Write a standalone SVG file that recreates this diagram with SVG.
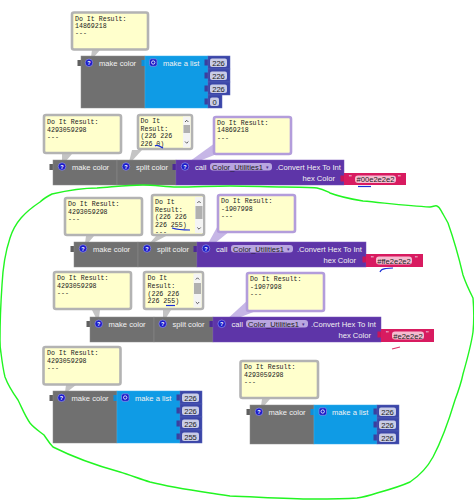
<svg xmlns="http://www.w3.org/2000/svg" width="474" height="500" viewBox="0 0 474 500">
<style>
text{font-family:"Liberation Sans",Arial,sans-serif}
.w{fill:#f2f2f2;font-size:7.6px}
.bb{fill:#ffffcc;stroke:#b3b3b3;stroke-width:2.6}
.bp{fill:#ffffcc;stroke:#b39ddb;stroke-width:2.6}
.tg{fill:#c4c4c4}
.tp{fill:#c6b6e6}
.m{font-family:"Liberation Mono","Courier New",monospace;font-size:6.6px;fill:#222}
.g{fill:#707070;stroke:#8a8a8a;stroke-width:.5}
.l{fill:#0f9be5;stroke:#35aef0;stroke-width:.5}
.p{fill:#5e35a8;stroke:#7350b8;stroke-width:.5}
.n{fill:#3b46a8;stroke:#5560b8;stroke-width:.5}
.r{fill:#d81b60}
.f{fill:#c9cce6}
.fr{fill:#f5bcd0}
.d{fill:#b9a6e0}
.t{fill:#222;font-size:7.6px}
.a{fill:#4a2a90;font-size:4.5px}
.c{text-anchor:middle}
.ic{fill:#1c1cc8;stroke:#8f8fe8;stroke-width:.7}
.q{fill:#fff;font-size:5.5px;font-weight:bold;text-anchor:middle}
.sb{fill:#f4f4f4}
.th{fill:#b0b0b0}
.ar{fill:none;stroke:#333;stroke-width:.8}
.tabg{fill:#5f5f5f}
.tabl{fill:#0f8fd8}
.tabn{fill:#3a3f9e}
.tabv{fill:#4c2a96}
.tabr{fill:#c8155a}
.gr{fill:none;stroke:#22f522;stroke-width:1.4}
.bl{fill:none;stroke:#1a2fd8;stroke-width:1.2}
</style>
<defs>
<clipPath id="c3"><rect x="153" y="196" width="40" height="39"/></clipPath>
</defs>

<g id="bubble-1">
<polygon class="tg" points="92,50 100,50 94,57 91,57"/>
<rect class="bb" x="72" y="12.500" width="76" height="37" rx="2"/>
<text class="m"><tspan x="75" y="20.500">Do It Result:</tspan><tspan x="75" y="28">14869218</tspan><tspan x="75" y="35">---</tspan></text>
</g>
<g id="make-color-1" transform="translate(81,56)">
<rect class="tabg" x="-3.500" y="4" width="4" height="6"/>
<rect class="g" width="64" height="52"/>
<circle class="ic" cx="8" cy="6.800" r="3.800"/><text class="q" x="8" y="8.800">?</text>
<text class="w" x="18" y="9.500">make color</text>
</g>
<g id="make-list-1" transform="translate(145,56)">
<rect class="tabl" x="-3.500" y="4" width="4" height="6"/>
<rect class="l" width="63" height="52"/>
<rect class="ic" x="4.500" y="2.800" width="7.500" height="7.500" rx="2"/><circle cx="8.200" cy="6.500" r="1.700" fill="none" stroke="#fff" stroke-width=".8"/>
<text class="w" x="18" y="9.500">make a list</text>
</g>
<g id="num-1-1" transform="translate(208,56)"><rect class="tabn" x="-3.500" y="3.500" width="4" height="6"/><rect class="n" width="22" height="13"/><rect class="f" x="2" y="2.500" width="17" height="8.500" rx="2"/><text class="t c" x="10.500" y="9.500">226</text></g>
<g id="num-1-2" transform="translate(208,69)"><rect class="tabn" x="-3.500" y="3.500" width="4" height="6"/><rect class="n" width="22" height="13"/><rect class="f" x="2" y="2.500" width="17" height="8.500" rx="2"/><text class="t c" x="10.500" y="9.500">226</text></g>
<g id="num-1-3" transform="translate(208,82)"><rect class="tabn" x="-3.500" y="3.500" width="4" height="6"/><rect class="n" width="22" height="13"/><rect class="f" x="2" y="2.500" width="17" height="8.500" rx="2"/><text class="t c" x="10.500" y="9.500">226</text></g>
<g id="num-1-4" transform="translate(208,95)"><rect class="tabn" x="-3.500" y="3.500" width="4" height="6"/><rect class="n" width="14" height="13"/><rect class="f" x="2" y="2.500" width="9" height="8.500" rx="2"/><text class="t c" x="6.500" y="9.500">0</text></g>

<g id="bubble-2a">
<polygon class="tg" points="62,154 72,154 66,161 62,161"/>
<rect class="bb" x="44" y="115" width="77" height="38" rx="2"/>
<text class="m"><tspan x="47" y="124">Do It Result:</tspan><tspan x="47" y="131.500">4293059298</tspan><tspan x="47" y="139">---</tspan></text>
</g>
<g id="bubble-2b">
<polygon class="tg" points="132,150 142,150 131,162 129,162"/>
<rect class="bb" x="138" y="115" width="54" height="34" rx="2"/>
<text class="m"><tspan x="140.500" y="123">Do It</tspan><tspan x="140.500" y="130.500">Result:</tspan><tspan x="140.500" y="138">(226 226</tspan><tspan x="140.500" y="146">226 0)</tspan></text>
<rect class="sb" x="183" y="116.500" width="7.500" height="31"/><rect class="th" x="183.500" y="125" width="6.500" height="8"/>
<path class="ar" d="M185 122l1.700-1.700 1.700 1.700M185 141.500l1.700 1.700 1.700-1.700"/>
</g>
<g id="bubble-2c">
<polygon class="tp" points="215,143 222,152 189,165 186,164"/>
<rect class="bp" x="214" y="117" width="77" height="37" rx="2"/>
<text class="m"><tspan x="217" y="125">Do It Result:</tspan><tspan x="217" y="132">14869218</tspan><tspan x="217" y="140">---</tspan></text>
</g>
<g id="make-color-2" transform="translate(53,160)">
<rect class="tabg" x="-3.500" y="4" width="4" height="6"/><rect class="g" width="64" height="25"/>
<circle class="ic" cx="9" cy="6.500" r="3.800"/><text class="q" x="9" y="8.500">?</text>
<text class="w" x="19" y="9.500">make color</text>
</g>
<g id="split-color-2" transform="translate(117,160)">
<rect class="g" width="59" height="25"/>
<circle class="ic" cx="9" cy="6.500" r="3.800"/><text class="q" x="9" y="8.500">?</text>
<text class="w" x="19" y="9.500">split color</text>
</g>
<g id="call-2" transform="translate(176,160)">
<rect class="tabv" x="-3.500" y="4" width="4" height="6"/><rect class="p" width="168" height="25"/>
<circle class="ic" cx="9" cy="6.500" r="3.800"/><text class="q" x="9" y="8.500">?</text>
<text class="w" x="19" y="9.500">call</text>
<rect class="d" x="34" y="3" width="62" height="7.500" rx="3"/><text class="t" x="36" y="9.500">Color_Utilities1</text><text class="a" x="90" y="8.500">▾</text>
<text class="w" x="100" y="9.500">.Convert Hex To Int</text>
<text class="w" x="159" y="21" text-anchor="end">hex Color</text>
</g>
<g id="text-2" transform="translate(344,173)">
<rect class="tabr" x="-3.500" y="2.500" width="4" height="6"/><rect class="r" width="62" height="12"/>
<text class="w" x="5" y="7">"</text><rect class="fr" x="11" y="2.500" width="41" height="7.500" rx="3"/><text class="t c" x="31.500" y="9">#00e2e2e2</text><text class="w" x="54" y="7">"</text>
</g>

<g id="bubble-3a">
<polygon class="tg" points="86,236 94,236 88,243 85,243"/>
<rect class="bb" x="65" y="198" width="77" height="37" rx="2"/>
<text class="m"><tspan x="68" y="206">Do It Result:</tspan><tspan x="68" y="213.500">4293059298</tspan><tspan x="68" y="221">---</tspan></text>
</g>
<g id="bubble-3b">
<polygon class="tg" points="156,236 166,236 151,244 149,244"/>
<rect class="bb" x="152" y="195" width="52" height="40" rx="2"/>
<text class="m" clip-path="url(#c3)"><tspan x="155" y="204">Do It</tspan><tspan x="155" y="211.500">Result:</tspan><tspan x="155" y="219">(226 226</tspan><tspan x="155" y="226.500">226 255)</tspan><tspan x="155" y="234">---</tspan></text>
<rect class="sb" x="195" y="197" width="8" height="36"/><rect class="th" x="195.500" y="206" width="7" height="13"/>
<path class="ar" d="M197.300 203l1.700-1.700 1.700 1.700M197.300 227.500l1.700 1.700 1.700-1.700"/>
</g>
<g id="bubble-3c">
<polygon class="tp" points="220,222 230,231 209,248 206,247"/>
<rect class="bp" x="218" y="195" width="77" height="37" rx="2"/>
<text class="m"><tspan x="221" y="203">Do It Result:</tspan><tspan x="221" y="211">-1907998</tspan><tspan x="221" y="218">---</tspan></text>
</g>
<g id="make-color-3" transform="translate(74,242)">
<rect class="tabg" x="-3.500" y="4" width="4" height="6"/><rect class="g" width="64" height="25"/>
<circle class="ic" cx="9" cy="6.500" r="3.800"/><text class="q" x="9" y="8.500">?</text>
<text class="w" x="19" y="9.500">make color</text>
</g>
<g id="split-color-3" transform="translate(138,242)">
<rect class="g" width="59" height="25"/>
<circle class="ic" cx="9" cy="6.500" r="3.800"/><text class="q" x="9" y="8.500">?</text>
<text class="w" x="19" y="9.500">split color</text>
</g>
<g id="call-3" transform="translate(197,242)">
<rect class="tabv" x="-3.500" y="4" width="4" height="6"/><rect class="p" width="169" height="25"/>
<circle class="ic" cx="9" cy="6.500" r="3.800"/><text class="q" x="9" y="8.500">?</text>
<text class="w" x="19" y="9.500">call</text>
<rect class="d" x="34" y="3" width="62" height="7.500" rx="3"/><text class="t" x="36" y="9.500">Color_Utilities1</text><text class="a" x="90" y="8.500">▾</text>
<text class="w" x="100" y="9.500">.Convert Hex To Int</text>
<text class="w" x="159" y="21" text-anchor="end">hex Color</text>
</g>
<g id="text-3" transform="translate(366,254)">
<rect class="tabr" x="-3.500" y="2.500" width="4" height="6"/><rect class="r" width="57" height="13"/>
<text class="w" x="5" y="7">"</text><rect class="fr" x="10" y="2.500" width="36" height="8" rx="3"/><text class="t c" x="28" y="9.500">#ffe2e2e2</text><text class="w" x="49" y="7">"</text>
</g>

<g id="bubble-4a">
<polygon class="tg" points="92,310 100,310 99,318 96,318"/>
<rect class="bb" x="54" y="272" width="77" height="37" rx="2"/>
<text class="m"><tspan x="57" y="280">Do It Result:</tspan><tspan x="57" y="287.500">4293059298</tspan><tspan x="57" y="295">---</tspan></text>
</g>
<g id="bubble-4b">
<polygon class="tg" points="163,310 171,310 166,318 163,318"/>
<rect class="bb" x="144" y="272" width="59" height="37" rx="2"/>
<text class="m"><tspan x="147.500" y="280">Do It</tspan><tspan x="147.500" y="288">Result:</tspan><tspan x="147.500" y="295.500">(226 226</tspan><tspan x="147.500" y="303">226 255)</tspan></text>
<rect class="sb" x="193.500" y="273.500" width="8" height="34"/><rect class="th" x="194" y="283" width="7" height="11"/>
<path class="ar" d="M195.800 279.500l1.700-1.700 1.700 1.700M195.800 302l1.700 1.700 1.700-1.700"/>
</g>
<g id="bubble-4c">
<polygon class="tp" points="248,300 256,311 228,322 225,321"/>
<rect class="bp" x="247" y="273" width="77" height="38" rx="2"/>
<text class="m"><tspan x="250" y="281">Do It Result:</tspan><tspan x="250" y="288.500">-1907998</tspan><tspan x="250" y="296">---</tspan></text>
</g>
<g id="make-color-4" transform="translate(90,317)">
<rect class="tabg" x="-3.500" y="4" width="4" height="6"/><rect class="g" width="64" height="25"/>
<circle class="ic" cx="8.700" cy="6.800" r="3.800"/><text class="q" x="8.700" y="8.800">?</text>
<text class="w" x="18.500" y="9.500">make color</text>
</g>
<g id="split-color-4" transform="translate(154,317)">
<rect class="g" width="59" height="25"/>
<circle class="ic" cx="8.700" cy="6.800" r="3.800"/><text class="q" x="8.700" y="8.800">?</text>
<text class="w" x="18.500" y="9.500">split color</text>
</g>
<g id="call-4" transform="translate(213,317)">
<rect class="tabv" x="-3.500" y="4" width="4" height="6"/><rect class="p" width="168" height="25"/>
<circle class="ic" cx="8.700" cy="6.800" r="3.800"/><text class="q" x="8.700" y="8.800">?</text>
<text class="w" x="18.500" y="9.500">call</text>
<rect class="d" x="33" y="3" width="62" height="7.500" rx="3"/><text class="t" x="35" y="9.500">Color_Utilities1</text><text class="a" x="89" y="8.500">▾</text>
<text class="w" x="98" y="9.500">.Convert Hex To Int</text>
<text class="w" x="158" y="21" text-anchor="end">hex Color</text>
</g>
<g id="text-4" transform="translate(381,329)">
<rect class="tabr" x="-3.500" y="2.500" width="4" height="6"/><rect class="r" width="53" height="13"/>
<text class="w" x="5" y="7">"</text><rect class="fr" x="11" y="2.500" width="32" height="8" rx="3"/><text class="t c" x="27" y="9.500">#e2e2e2</text><text class="w" x="45" y="7">"</text>
</g>

<g id="bubble-5">
<polygon class="tg" points="66,385 76,385 67,392 65,392"/>
<rect class="bb" x="43.500" y="347" width="77" height="37.500" rx="2"/>
<text class="m"><tspan x="47" y="355">Do It Result:</tspan><tspan x="47" y="362.500">4293059298</tspan><tspan x="47" y="370">---</tspan></text>
</g>
<g id="make-color-5" transform="translate(53,391)">
<rect class="tabg" x="-3.500" y="4" width="4" height="6"/><rect class="g" width="64" height="52"/>
<circle class="ic" cx="8.500" cy="6.800" r="3.800"/><text class="q" x="8.500" y="8.800">?</text>
<text class="w" x="18.500" y="9.500">make color</text>
</g>
<g id="make-list-5" transform="translate(117,391)">
<rect class="tabl" x="-3.500" y="4" width="4" height="6"/><rect class="l" width="63" height="52"/>
<rect class="ic" x="4.500" y="2.800" width="7.500" height="7.500" rx="2"/><circle cx="8.200" cy="6.500" r="1.700" fill="none" stroke="#fff" stroke-width=".8"/>
<text class="w" x="18" y="9.500">make a list</text>
</g>
<g id="num-5-1" transform="translate(180,391)"><rect class="tabn" x="-3.500" y="3.500" width="4" height="6"/><rect class="n" width="22" height="13"/><rect class="f" x="2" y="2.500" width="17" height="8.500" rx="2"/><text class="t c" x="10.500" y="9.500">226</text></g>
<g id="num-5-2" transform="translate(180,404)"><rect class="tabn" x="-3.500" y="3.500" width="4" height="6"/><rect class="n" width="22" height="13"/><rect class="f" x="2" y="2.500" width="17" height="8.500" rx="2"/><text class="t c" x="10.500" y="9.500">226</text></g>
<g id="num-5-3" transform="translate(180,417)"><rect class="tabn" x="-3.500" y="3.500" width="4" height="6"/><rect class="n" width="22" height="13"/><rect class="f" x="2" y="2.500" width="17" height="8.500" rx="2"/><text class="t c" x="10.500" y="9.500">226</text></g>
<g id="num-5-4" transform="translate(180,430)"><rect class="tabn" x="-3.500" y="3.500" width="4" height="6"/><rect class="n" width="22" height="13"/><rect class="f" x="2" y="2.500" width="17" height="8.500" rx="2"/><text class="t c" x="10.500" y="9.500">255</text></g>

<g id="bubble-6">
<polygon class="tg" points="262,399 270,399 264,406 261,406"/>
<rect class="bb" x="240.500" y="361" width="77.500" height="37" rx="2"/>
<text class="m"><tspan x="244" y="369">Do It Result:</tspan><tspan x="244" y="376.500">4293059298</tspan><tspan x="244" y="384">---</tspan></text>
</g>
<g id="make-color-6" transform="translate(250,405)">
<rect class="tabg" x="-3.500" y="4" width="4" height="6"/><rect class="g" width="64" height="39"/>
<circle class="ic" cx="9" cy="6.800" r="3.800"/><text class="q" x="9" y="8.800">?</text>
<text class="w" x="18.500" y="9.500">make color</text>
</g>
<g id="make-list-6" transform="translate(314,405)">
<rect class="tabl" x="-3.500" y="4" width="4" height="6"/><rect class="l" width="63" height="39"/>
<rect class="ic" x="5" y="2.800" width="7.500" height="7.500" rx="2"/><circle cx="8.700" cy="6.500" r="1.700" fill="none" stroke="#fff" stroke-width=".8"/>
<text class="w" x="18" y="9.500">make a list</text>
</g>
<g id="num-6-1" transform="translate(377,405)"><rect class="tabn" x="-3.500" y="3.500" width="4" height="6"/><rect class="n" width="22" height="13"/><rect class="f" x="2" y="2.500" width="17" height="8.500" rx="2"/><text class="t c" x="10.500" y="9.500">226</text></g>
<g id="num-6-2" transform="translate(377,418)"><rect class="tabn" x="-3.500" y="3.500" width="4" height="6"/><rect class="n" width="22" height="13"/><rect class="f" x="2" y="2.500" width="17" height="8.500" rx="2"/><text class="t c" x="10.500" y="9.500">226</text></g>
<g id="num-6-3" transform="translate(377,431)"><rect class="tabn" x="-3.500" y="3.500" width="4" height="6"/><rect class="n" width="22" height="13"/><rect class="f" x="2" y="2.500" width="17" height="8.500" rx="2"/><text class="t c" x="10.500" y="9.500">226</text></g>

<g id="connectors">
<path class="gr" d="M0 340C0 320 1 300 2 285C3 265 6 250 10 238C15 222 25 212 40 202C44 198 48 196 52 194C65 191 85 188 97 188C112 187 128 185 143 185C155 185 166 187 177 187C195 187 212 186 230 186C250 186 268 187 283 187C296 187 308 187 317 188C323 189 326 191 330 193C340 197 351 199 363 201C385 203 408 206 430 207C433 207 435 205 437 206C440 207 441 211 443 214L448 223C454 240 459 258 463 275C466 284 470 292 473 298C474 310 474 322 473 332C471 346 467 360 463 374C461 384 458 392 455 400C449 420 442 440 433 457C427 468 419 476 410 482C399 487 388 490 377 493C371 495 364 497 357 498C343 499 328 499 313 499C287 499 258 497 230 496C223 495 216 494 210 493C190 490 170 487 150 482C140 479 130 475 120 472C98 466 75 458 53 447C49 443 47 439 44 435C39 431 34 428 30 423C25 416 22 408 18 400C13 393 8 385 5 377C3 369 2 361 1 353C0 348 0 344 0 340Z"/>
<path class="bl" d="M155 146C157 144 160 146 163 148"/>
<path class="bl" d="M358 186.500H371" stroke-width="2"/>
<path class="bl" d="M172 228C178 230 184 230 190 230"/>
<path class="bl" d="M380 272C381 269 383 269 386 268.500C389 268 391 268 393 268"/>
<path class="bl" d="M166 305.500H175"/>
<path d="M392 349L400 347" fill="none" stroke="#e0306a" stroke-width="1.200"/>
</g>
</svg>
